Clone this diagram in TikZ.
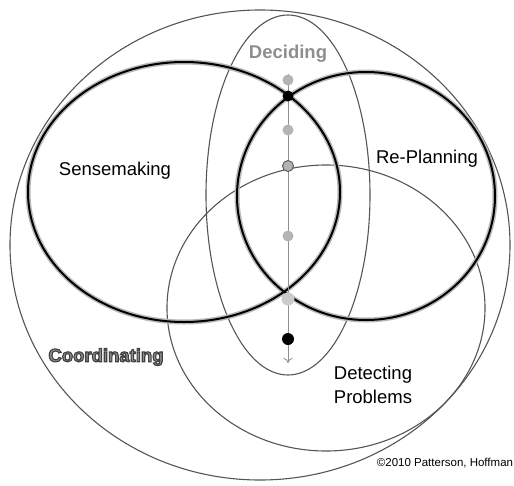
\documentclass[tikz,border=0pt]{standalone}
\usepackage{fontspec}
\setmainfont{Liberation Sans}
\usetikzlibrary{arrows.meta}
\definecolor{dotgray}{HTML}{B4B4B4}
\definecolor{linegray}{HTML}{555555}
\definecolor{wordgray}{HTML}{8E8E8E}
\newcommand{\outlined}[1]{\special{pdf:literal direct 2 Tr 1.1 w 0.25 G}#1\special{pdf:literal direct 0 Tr 0 G}}
\tikzset{
  thinring/.style={draw=linegray,line width=1.1pt},
  halo/.style={draw=black!28,line width=5pt},
  thickring/.style={draw=black,line width=2pt},
  txt/.style={font=\fontsize{18.5}{24}\selectfont,inner sep=0pt},
  gdot/.style={circle,fill=dotgray,inner sep=0pt,minimum size=11pt},
  bdot/.style={circle,fill=black,inner sep=0pt,minimum size=11pt},
}
\begin{document}
\begin{tikzpicture}[x=1pt,y=-1pt]
  \useasboundingbox (0,0) rectangle (514,485);
  % thin rings
  \draw[thinring] (260,245) ellipse [x radius=250pt, y radius=235pt];
  \draw[thinring] (288,195) ellipse [x radius=82pt, y radius=180pt];
  \draw[thinring] (326,308) ellipse [x radius=159pt, y radius=143pt];
  % thick rings with soft halo
  \draw[halo] (184,192) ellipse [x radius=156pt, y radius=130pt];
  \draw[halo] (366,196) ellipse [x radius=129pt, y radius=124pt];
  \draw[thickring] (184,192) ellipse [x radius=156pt, y radius=130pt];
  \draw[thickring] (366,196) ellipse [x radius=129pt, y radius=124pt];
  %
  \coordinate (top) at (288,74);
  \coordinate (tip) at (288,363);
  \draw[dotgray!80!black,line width=0.9pt,-{To[length=5pt,width=9pt]}] (top) -- (tip);
  \node[gdot] (d1) at (288,80) {};
  \node[bdot] (d2) at (288,96) {};
  \node[gdot] (d3) at (288,130) {};
  \node[gdot,draw=linegray,line width=0.9pt] (d4) at (288,166) {};
  \node[gdot] (d5) at (288,236) {};
  \node[gdot,fill=dotgray!70,minimum size=13pt] (d6) at (288,299) {};
  \node[bdot,minimum size=12pt] (d7) at (288,339) {};
  % labels
  \node[txt,text=wordgray,font=\fontsize{18.5}{24}\selectfont\bfseries] (deciding) at (288,54) {Deciding};
  \node[txt] (sense) at (115,171) {Sensemaking};
  \node[txt] (replan) at (427,159) {Re-Planning};
  \node[txt,align=left] (detect) at (373,385) {Detecting\\Problems};
  \node[txt,text=wordgray,font=\fontsize{18.5}{24}\selectfont\bfseries] (coord) at (106,357) {\outlined{Coordinating}};
  \node[txt,font=\fontsize{11.5}{14}\selectfont] (copy) at (445,463) {©2010 Patterson, Hoffman};
\end{tikzpicture}
\end{document}
